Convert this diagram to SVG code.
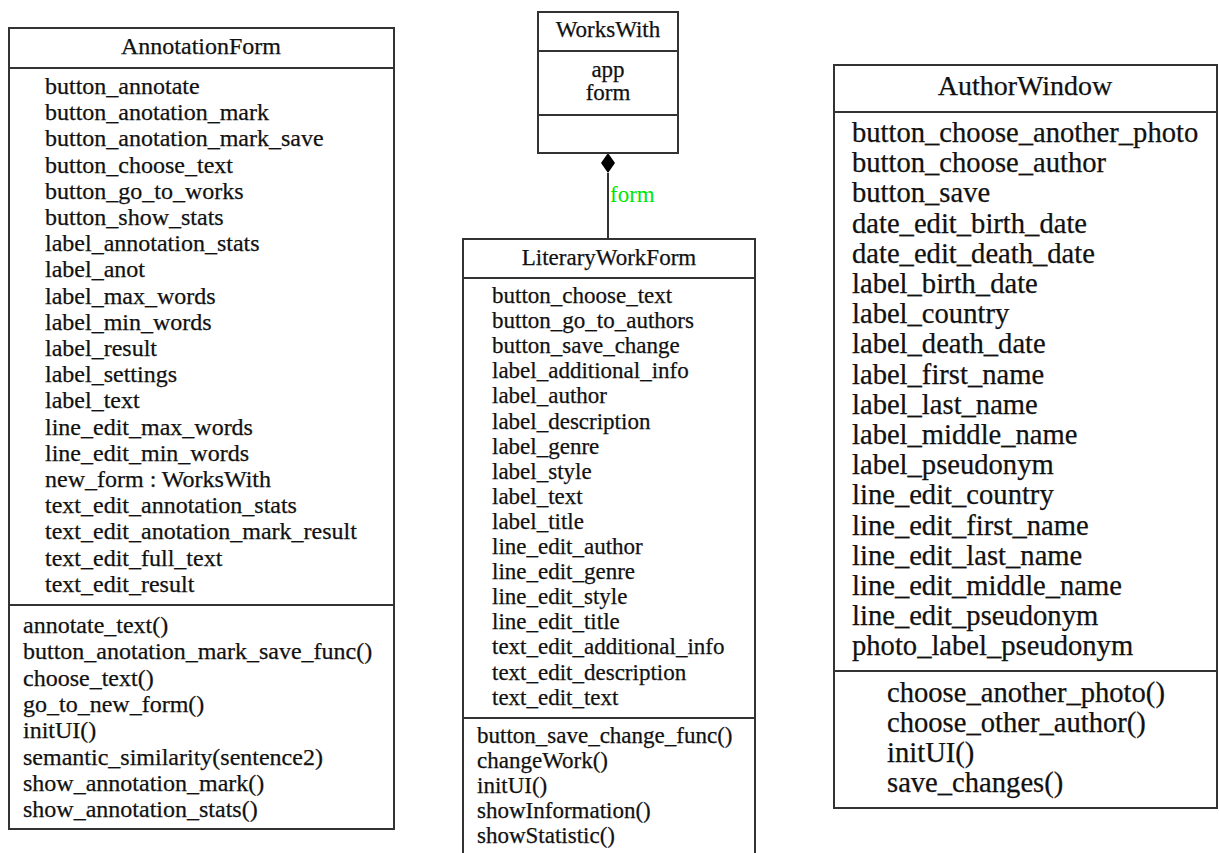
<svg xmlns="http://www.w3.org/2000/svg" width="1219" height="853" viewBox="0 0 1219 853">
  <style>
    .box { fill: #ffffff; stroke: #333333; stroke-width: 2; }
    .sep { stroke: #333333; stroke-width: 2; fill: none; }
    .t { font-family: "Liberation Serif", "Times New Roman", serif; fill: #111111; stroke: #111111; stroke-width: 0.25; }
    .f24 { font-size: 24px; }
    .f23 { font-size: 23px; }
    .f28 { font-size: 28px; }
    .f285 { font-size: 28.6px; }
    .mid { text-anchor: middle; }
    .edge { stroke: #333333; stroke-width: 2; fill: none; }
    .elabel { font-family: "Liberation Serif", "Times New Roman", serif; font-size: 23px; fill: #00e600; }
  </style>
  <rect width="1219" height="853" fill="#ffffff"/>

  <!-- Composition: WorksWith owns a LiteraryWorkForm as "form" -->
  <g id="connectors">
    <line class="edge" x1="608" y1="173" x2="608" y2="239"/>
    <path d="M608,153 L615,163 L608,173 L601,163 Z" fill="#000000"/>
    <text class="elabel" x="610" y="202">form</text>
  </g>

  <g id="AnnotationForm">
    <rect class="box" x="9" y="28" width="385" height="801"/>
    <line class="sep" x1="9" y1="68" x2="394" y2="68"/>
    <line class="sep" x1="9" y1="605" x2="394" y2="605"/>
    <text class="t f24 mid" x="201" y="54">AnnotationForm</text>
    <g class="t f24">
      <text x="45" y="94">button_annotate</text>
      <text x="45" y="120.2">button_anotation_mark</text>
      <text x="45" y="146.4">button_anotation_mark_save</text>
      <text x="45" y="172.6">button_choose_text</text>
      <text x="45" y="198.8">button_go_to_works</text>
      <text x="45" y="225">button_show_stats</text>
      <text x="45" y="251.2">label_annotation_stats</text>
      <text x="45" y="277.4">label_anot</text>
      <text x="45" y="303.6">label_max_words</text>
      <text x="45" y="329.8">label_min_words</text>
      <text x="45" y="356">label_result</text>
      <text x="45" y="382.2">label_settings</text>
      <text x="45" y="408.4">label_text</text>
      <text x="45" y="434.6">line_edit_max_words</text>
      <text x="45" y="460.8">line_edit_min_words</text>
      <text x="45" y="487">new_form : WorksWith</text>
      <text x="45" y="513.2">text_edit_annotation_stats</text>
      <text x="45" y="539.4">text_edit_anotation_mark_result</text>
      <text x="45" y="565.6">text_edit_full_text</text>
      <text x="45" y="591.8">text_edit_result</text>
    </g>
    <g class="t f24">
      <text x="23" y="633">annotate_text()</text>
      <text x="23" y="659.3">button_anotation_mark_save_func()</text>
      <text x="23" y="685.6">choose_text()</text>
      <text x="23" y="711.9">go_to_new_form()</text>
      <text x="23" y="738.2">initUI()</text>
      <text x="23" y="764.5">semantic_similarity(sentence2)</text>
      <text x="23" y="790.8">show_annotation_mark()</text>
      <text x="23" y="817.1">show_annotation_stats()</text>
    </g>
  </g>

  <g id="WorksWith">
    <rect class="box" x="538" y="12" width="140" height="141"/>
    <line class="sep" x1="538" y1="51" x2="678" y2="51"/>
    <line class="sep" x1="538" y1="115" x2="678" y2="115"/>
    <text class="t f23 mid" x="608" y="37">WorksWith</text>
    <text class="t f23 mid" x="608" y="77">app</text>
    <text class="t f23 mid" x="608" y="100">form</text>
  </g>

  <g id="LiteraryWorkForm">
    <rect class="box" x="463" y="239" width="292" height="630"/>
    <line class="sep" x1="463" y1="278" x2="755" y2="278"/>
    <line class="sep" x1="463" y1="718" x2="755" y2="718"/>
    <text class="t f23 mid" x="609" y="265">LiteraryWorkForm</text>
    <g class="t f23">
      <text x="492" y="303">button_choose_text</text>
      <text x="492" y="328.1">button_go_to_authors</text>
      <text x="492" y="353.2">button_save_change</text>
      <text x="492" y="378.3">label_additional_info</text>
      <text x="492" y="403.4">label_author</text>
      <text x="492" y="428.5">label_description</text>
      <text x="492" y="453.6">label_genre</text>
      <text x="492" y="478.7">label_style</text>
      <text x="492" y="503.8">label_text</text>
      <text x="492" y="528.9">label_title</text>
      <text x="492" y="554">line_edit_author</text>
      <text x="492" y="579.1">line_edit_genre</text>
      <text x="492" y="604.2">line_edit_style</text>
      <text x="492" y="629.3">line_edit_title</text>
      <text x="492" y="654.4">text_edit_additional_info</text>
      <text x="492" y="679.5">text_edit_description</text>
      <text x="492" y="704.6">text_edit_text</text>
    </g>
    <g class="t f23">
      <text x="477" y="743">button_save_change_func()</text>
      <text x="477" y="768">changeWork()</text>
      <text x="477" y="793">initUI()</text>
      <text x="477" y="818">showInformation()</text>
      <text x="477" y="843">showStatistic()</text>
    </g>
  </g>

  <g id="AuthorWindow">
    <rect class="box" x="834" y="65" width="383" height="743"/>
    <line class="sep" x1="834" y1="112" x2="1217" y2="112"/>
    <line class="sep" x1="834" y1="671" x2="1217" y2="671"/>
    <text class="t f28 mid" x="1025" y="95">AuthorWindow</text>
    <g class="t f285">
      <text x="852" y="142">button_choose_another_photo</text>
      <text x="852" y="172.2">button_choose_author</text>
      <text x="852" y="202.4">button_save</text>
      <text x="852" y="232.6">date_edit_birth_date</text>
      <text x="852" y="262.8">date_edit_death_date</text>
      <text x="852" y="293">label_birth_date</text>
      <text x="852" y="323.2">label_country</text>
      <text x="852" y="353.4">label_death_date</text>
      <text x="852" y="383.6">label_first_name</text>
      <text x="852" y="413.8">label_last_name</text>
      <text x="852" y="444">label_middle_name</text>
      <text x="852" y="474.2">label_pseudonym</text>
      <text x="852" y="504.4">line_edit_country</text>
      <text x="852" y="534.6">line_edit_first_name</text>
      <text x="852" y="564.8">line_edit_last_name</text>
      <text x="852" y="595">line_edit_middle_name</text>
      <text x="852" y="625.2">line_edit_pseudonym</text>
      <text x="852" y="655.4">photo_label_pseudonym</text>
    </g>
    <g class="t f285">
      <text x="887" y="702">choose_another_photo()</text>
      <text x="887" y="732">choose_other_author()</text>
      <text x="887" y="762">initUI()</text>
      <text x="887" y="792">save_changes()</text>
    </g>
  </g>
</svg>
